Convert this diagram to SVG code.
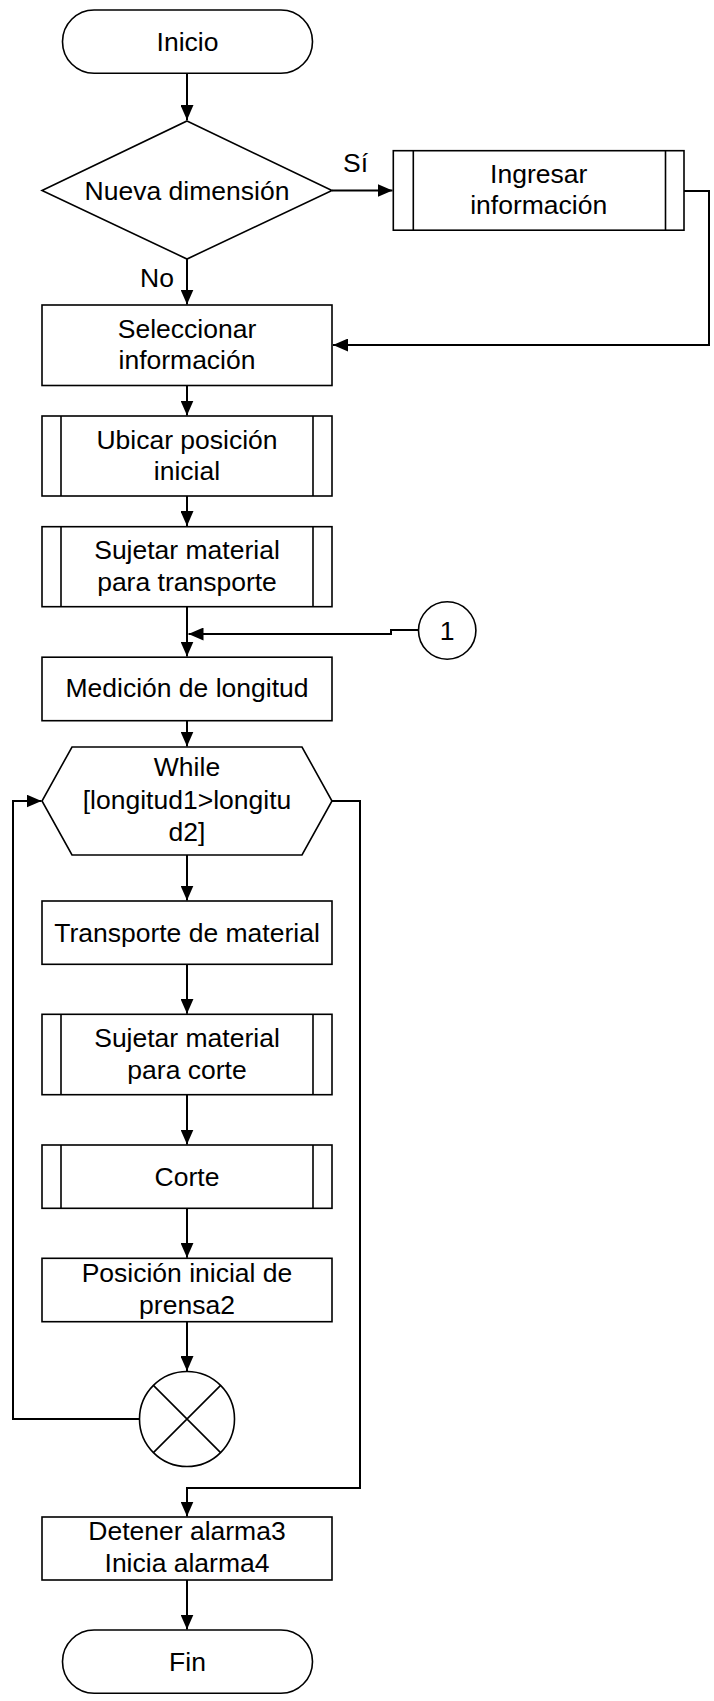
<svg xmlns="http://www.w3.org/2000/svg" width="714" height="1701" viewBox="0 0 714 1701">
<style>
.s{fill:#fff;stroke:#000;stroke-width:1.6}
.l{fill:none;stroke:#000;stroke-width:1.6}
.c{fill:none;stroke:#000;stroke-width:2}
text{font-family:"Liberation Sans",Arial,sans-serif;font-size:26.5px;fill:#000;text-anchor:middle}
</style>
<defs>
<marker id="a" markerWidth="15" markerHeight="13" refX="15" refY="6.5" orient="auto" markerUnits="userSpaceOnUse">
<path d="M0,0 L15,6.5 L0,13 Z" fill="#000"/>
</marker>
</defs>
<rect width="714" height="1701" fill="#fff"/>
<g id="connectors">
<path class="c" d="M187,73 V120" marker-end="url(#a)"/>
<path class="c" d="M332,190.5 H392.5" marker-end="url(#a)"/>
<path class="c" d="M684,191 H709 V345 H333" marker-end="url(#a)"/>
<path class="c" d="M187,259 V304.5" marker-end="url(#a)"/>
<path class="c" d="M187,385.5 V415.5" marker-end="url(#a)"/>
<path class="c" d="M187,496 V526" marker-end="url(#a)"/>
<path class="c" d="M187,606.7 V656.5" marker-end="url(#a)"/>
<path class="c" d="M418.5,630 H391 V634 H188.5" marker-end="url(#a)"/>
<path class="c" d="M187,720.7 V746.5" marker-end="url(#a)"/>
<path class="c" d="M187,855 V900.5" marker-end="url(#a)"/>
<path class="c" d="M187,964.3 V1013.8" marker-end="url(#a)"/>
<path class="c" d="M187,1094.7 V1144.5" marker-end="url(#a)"/>
<path class="c" d="M187,1208.3 V1257.8" marker-end="url(#a)"/>
<path class="c" d="M187,1321.7 V1371" marker-end="url(#a)"/>
<path class="c" d="M139.5,1419 H13 V801 H41.5" marker-end="url(#a)"/>
<path class="c" d="M332,801 H360 V1488 H187 V1516.5" marker-end="url(#a)"/>
<path class="c" d="M187,1580 V1629.5" marker-end="url(#a)"/>
<text x="343" y="171.5" style="text-anchor:start">Sí</text>
<text x="174" y="287" style="text-anchor:end">No</text>
</g>
<g id="inicio">
<rect class="s" x="62.5" y="10" width="250" height="63.3" rx="31.6"/>
<text x="187.5" y="51">Inicio</text>
</g>
<g id="nueva-dimension">
<polygon class="s" points="187,121 332,190.5 187,259 42,190.5"/>
<text x="187" y="199.5">Nueva dimensión</text>
</g>
<g id="ingresar">
<rect class="s" x="393.3" y="150.7" width="290.7" height="79.5"/>
<path class="l" d="M413.3,150.7 V230.2 M665.5,150.7 V230.2"/>
<text x="538.7" y="183.3">Ingresar</text>
<text x="538.7" y="214.3">información</text>
</g>
<g id="seleccionar">
<rect class="s" x="42" y="305" width="290" height="80.5"/>
<text x="187" y="337.5">Seleccionar</text>
<text x="187" y="369">información</text>
</g>
<g id="ubicar">
<rect class="s" x="42" y="416" width="290" height="80"/>
<path class="l" d="M61,416 V496 M313,416 V496"/>
<text x="187" y="448.5">Ubicar posición</text>
<text x="187" y="480">inicial</text>
</g>
<g id="sujetar-transporte">
<rect class="s" x="42" y="526.7" width="290" height="80"/>
<path class="l" d="M61,526.7 V606.7 M313,526.7 V606.7"/>
<text x="187" y="559">Sujetar material</text>
<text x="187" y="590.5">para transporte</text>
</g>
<g id="conector-1">
<circle class="s" cx="447.2" cy="630.5" r="28.7"/>
<text x="447.2" y="639.8">1</text>
</g>
<g id="medicion">
<rect class="s" x="42" y="657.2" width="290" height="63.5"/>
<text x="187" y="696.5">Medición de longitud</text>
</g>
<g id="while">
<polygon class="s" points="72,747 302,747 332,801 302,855 72,855 42,801"/>
<text x="187" y="776">While</text>
<text x="187" y="809">[longitud1&gt;longitu</text>
<text x="187" y="841">d2]</text>
</g>
<g id="transporte">
<rect class="s" x="42" y="901" width="290" height="63.3"/>
<text x="187" y="941.5">Transporte de material</text>
</g>
<g id="sujetar-corte">
<rect class="s" x="42" y="1014.3" width="290" height="80.4"/>
<path class="l" d="M61,1014.3 V1094.7 M313,1014.3 V1094.7"/>
<text x="187" y="1047">Sujetar material</text>
<text x="187" y="1078.5">para corte</text>
</g>
<g id="corte">
<rect class="s" x="42" y="1145" width="290" height="63.3"/>
<path class="l" d="M61,1145 V1208.3 M313,1145 V1208.3"/>
<text x="187" y="1186">Corte</text>
</g>
<g id="posicion">
<rect class="s" x="42" y="1258.3" width="290" height="63.4"/>
<text x="187" y="1282">Posición inicial de</text>
<text x="187" y="1313.5">prensa2</text>
</g>
<g id="fin-bucle">
<circle class="s" cx="187" cy="1419" r="47.5"/>
<path class="l" d="M153.4,1385.4 L220.6,1452.6 M220.6,1385.4 L153.4,1452.6"/>
</g>
<g id="detener">
<rect class="s" x="42" y="1517" width="290" height="63"/>
<text x="187" y="1540">Detener alarma3</text>
<text x="187" y="1571.7">Inicia alarma4</text>
</g>
<g id="fin">
<rect class="s" x="62.5" y="1630" width="250" height="63.3" rx="31.6"/>
<text x="187.5" y="1671">Fin</text>
</g>
</svg>
